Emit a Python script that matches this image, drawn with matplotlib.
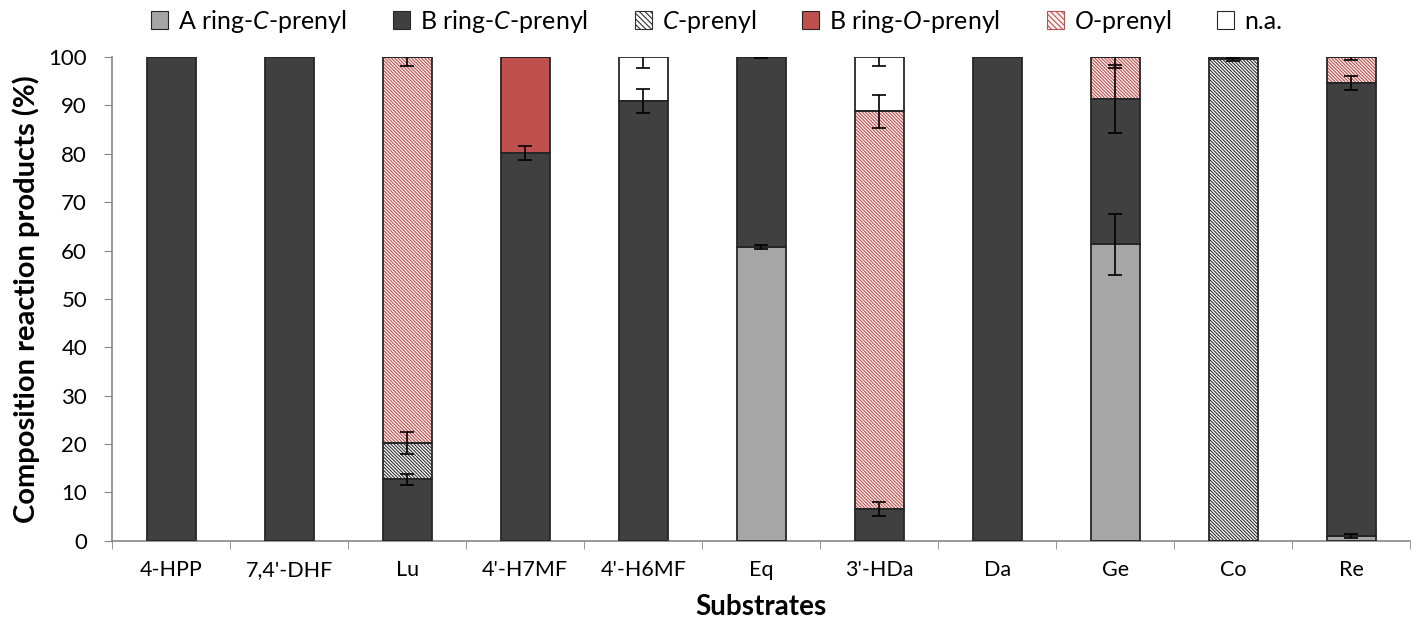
import numpy as np
import matplotlib.pyplot as plt
from matplotlib.patches import Patch

plt.rcParams['font.family'] = ['Lato', 'DejaVu Sans']
plt.rcParams['mathtext.fontset'] = 'custom'
plt.rcParams['mathtext.rm'] = 'Lato'
plt.rcParams['mathtext.it'] = 'Lato:italic'
plt.rcParams['hatch.linewidth'] = 0.8

# 基質
substrates = ["4-HPP", "7,4'-DHF", "Lu", "4'-H7MF", "4'-H6MF", "Eq",
              "3'-HDa", "Da", "Ge", "Co", "Re"]

# 各生成物の割合 (%)
a_ring_c = [0, 0, 0, 0, 0, 60.8, 0, 0, 61.3, 0, 1.0]
b_ring_c = [100, 100, 12.7, 80.1, 90.9, 39.2, 6.6, 100, 30.0, 0, 93.6]
c_prenyl = [0, 0, 7.5, 0, 0, 0, 0, 0, 0, 99.5, 0]
b_ring_o = [0, 0, 0, 19.9, 0, 0, 0, 0, 0, 0, 0]
o_prenyl = [0, 0, 79.8, 0, 0, 0, 82.2, 0, 8.7, 0.5, 5.4]
na = [0, 0, 0, 0, 9.1, 0, 11.2, 0, 0, 0, 0]

# 誤差 (SD)
a_ring_c_err = [0, 0, 0, 0, 0, 0.4, 0, 0, 6.3, 0, 0.5]
b_ring_c_err = [0, 0, 1.1, 1.4, 2.4, 0.3, 1.4, 0, 7.0, 0, 1.4]
c_prenyl_err = [0, 0, 2.3, 0, 0, 0, 0, 0, 0, 0.3, 0]
b_ring_o_err = [0, 0, 0, 0, 0, 0, 0, 0, 0, 0, 0]
o_prenyl_err = [0, 0, 1.8, 0, 0, 0, 3.4, 0, 2.2, 0, 0.7]
na_err = [0, 0, 0, 0, 2.2, 0, 1.8, 0, 0, 0, 0]

series = [
    ("A ring-$\\mathit{C}$-prenyl", a_ring_c, a_ring_c_err, "#a6a6a6", None),
    ("B ring-$\\mathit{C}$-prenyl", b_ring_c, b_ring_c_err, "#404040", None),
    ("$\\mathit{C}$-prenyl", c_prenyl, c_prenyl_err, "white", "#303030"),
    ("B ring-$\\mathit{O}$-prenyl", b_ring_o, b_ring_o_err, "#c0504d", None),
    ("$\\mathit{O}$-prenyl", o_prenyl, o_prenyl_err, "#fdf3f3", "#c0504d"),
    ("n.a.", na, na_err, "white", None),
]

x = np.arange(len(substrates))
w = 0.415
edge = "#262626"
hatch = '\\' * 10

fig = plt.figure(figsize=(14.19, 6.26), dpi=100)
ax = fig.add_axes([0.079, 0.136, 0.915, 0.773])

bottom = np.zeros(len(substrates))
handles = []
for label, vals, errs, color, hcolor in series:
    vals = np.array(vals, dtype=float)
    if hcolor is not None:
        ax.bar(x, vals, w, bottom=bottom, color=color, edgecolor=hcolor,
               hatch=hatch, linewidth=0, zorder=2)
    else:
        ax.bar(x, vals, w, bottom=bottom, color=color, linewidth=0, zorder=2)
    # 枠線
    ax.bar(x, vals, w, bottom=bottom, fill=False, edgecolor=edge,
           linewidth=1.3, zorder=3)
    top = bottom + vals
    errs = np.array(errs, dtype=float)
    m = (vals > 0) & (errs > 0)
    ax.errorbar(x[m], top[m], yerr=errs[m], fmt='none', ecolor='black',
                elinewidth=1.2, capsize=5, capthick=1.2, zorder=4)
    bottom = top
    if hcolor is not None:
        h = Patch(facecolor=color, edgecolor=hcolor, hatch='\\' * 6, linewidth=0.8)
    else:
        h = Patch(facecolor=color, edgecolor=edge, linewidth=0.8)
    handles.append((h, label))

ax.set_xlim(-0.5, len(substrates) - 0.5)
ax.set_ylim(0, 100)
ax.set_yticks(np.arange(0, 101, 10))
ax.set_xticks(x)
ax.set_xticklabels(substrates)
ax.set_xticks(np.arange(-0.5, len(substrates)), minor=True)
ax.tick_params(axis='x', which='major', length=0, pad=14, labelsize=15.5)
ax.tick_params(axis='x', which='minor', length=6, color='#868686', direction='out')
ax.tick_params(axis='y', length=6, color='#868686', labelsize=16, pad=12)

for s in ['top', 'right']:
    ax.spines[s].set_visible(False)
for s in ['left', 'bottom']:
    ax.spines[s].set_color('#868686')
    ax.spines[s].set_linewidth(1.2)

ax.set_ylabel('Composition reaction products (%)', fontsize=21, fontweight='bold', labelpad=6)
ax.set_xlabel('Substrates', fontsize=20, fontweight='bold', labelpad=10)

fig.legend([h for h, _ in handles], [l for _, l in handles], loc='center',
           bbox_to_anchor=(0.505, 0.966), ncol=6, frameon=False, fontsize=18,
           handlelength=0.68, handleheight=0.68, handletextpad=0.4,
           columnspacing=1.85, borderpad=0, borderaxespad=0)

fig.savefig('out.png', dpi=100)
